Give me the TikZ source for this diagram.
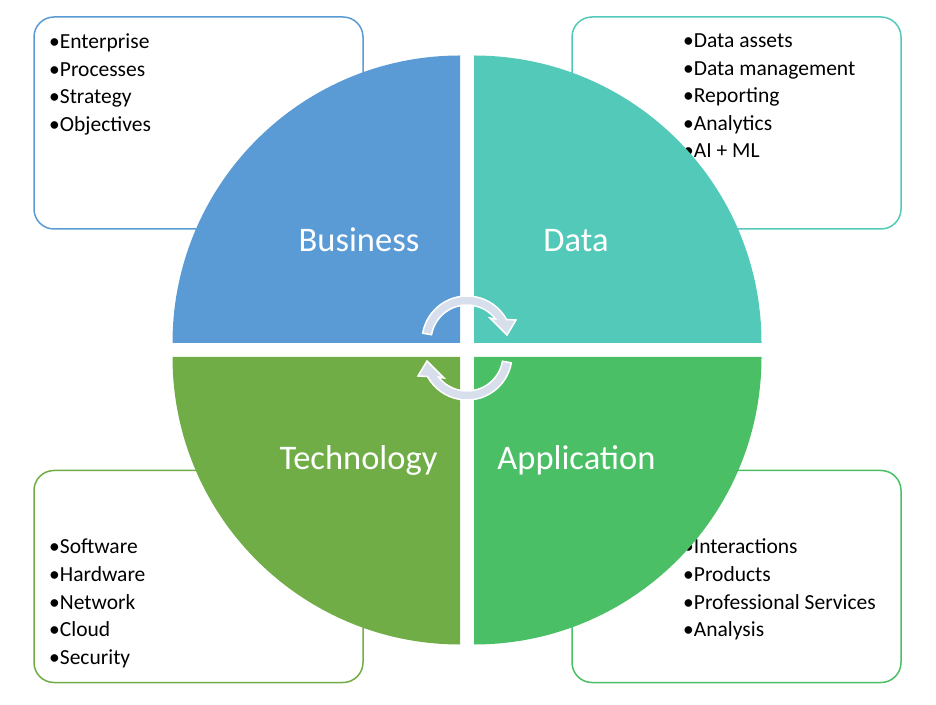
\documentclass[tikz,border=0pt]{standalone}
\usepackage{fontspec}
\setmainfont{Carlito}
\usetikzlibrary{positioning}
\definecolor{bizblue}{HTML}{5B9BD5}
\definecolor{datateal}{HTML}{53C9B9}
\definecolor{techgreen}{HTML}{70AD47}
\definecolor{appgreen}{HTML}{4BBF65}
\definecolor{arrowfill}{HTML}{D7DEEC}
\tikzset{
  cyclearrow/.pic={
    \fill[arrowfill, draw=white, line width=1.5pt]
      (170:45) arc[start angle=170, end angle=28.5, radius=45]
      -- (49,21) -- (40,6) -- (23,23) -- (37.7:36)
      arc[start angle=37.7, end angle=170, radius=36] -- cycle;
  }
}

\begin{document}
\begin{tikzpicture}
    [
        x=1pt, y=1pt,
        info_box/.style={draw, rounded corners=20pt, line width=1.5pt, fill=white, minimum width=329pt, minimum height=212pt, inner sep=0pt},
        item/.style={anchor=base west, inner sep=0pt, font=\fontsize{21.5}{25}\selectfont},
        quad_label/.style={anchor=base, inner sep=0pt, text=white, font=\fontsize{34.5}{40}\selectfont},
    ]
  \useasboundingbox (0,0) rectangle (936,704);

  % boxes behind the circle
  \node[info_box, draw=bizblue] (bizbox) at (198.5,581) {};
  \node[info_box, draw=datateal] (databox) at (736.5,581) {};
  \node[info_box, draw=techgreen] (techbox) at (198.5,127.5) {};
  \node[info_box, draw=appgreen] (appbox) at (736.5,127.5) {};

  \foreach \t [count=\i from 0] in {Enterprise, Processes, Strategy, Objectives}
    \node[item] (biz\i) at (49,655-27.5*\i) {\textbullet\t};
  \foreach \t [count=\i from 0] in {Data assets, Data management, Reporting, Analytics, AI + ML}
    \node[item] (data\i) at (683,656-27.5*\i) {\textbullet\t};
  \foreach \t [count=\i from 0] in {Software, Hardware, Network, Cloud, Security}
    \node[item] (tech\i) at (49,150-27.5*\i) {\textbullet\t};
  \foreach \t [count=\i from 0] in {Interactions, Products, Professional Services, Analysis}
    \node[item] (app\i) at (683,150-27.5*\i) {\textbullet\t};

  % quarter circles
  \fill[bizblue] (460,361) -- ++(-287.5,0) arc[start angle=180, end angle=90, radius=287.5] -- cycle;
  \fill[datateal] (474,361) -- ++(0,287.5) arc[start angle=90, end angle=0, radius=287.5] -- cycle;
  \fill[techgreen] (460,347) -- ++(-287.5,0) arc[start angle=180, end angle=270, radius=287.5] -- cycle;
  \fill[appgreen] (474,347) -- ++(287.5,0) arc[start angle=0, end angle=-90, radius=287.5] -- cycle;

  \node[quad_label] (biz) at (359,452) {Business};
  \node[quad_label] (data) at (576,452) {Data};
  \node[quad_label] (tech) at (358.5,234) {Technology};
  \node[quad_label] (app) at (576.5,234) {Application};

  % cycle arrows
  \pic at (467,363) {cyclearrow};
  \pic[rotate=180] at (467,349) {cyclearrow};
\end{tikzpicture}
\end{document}
